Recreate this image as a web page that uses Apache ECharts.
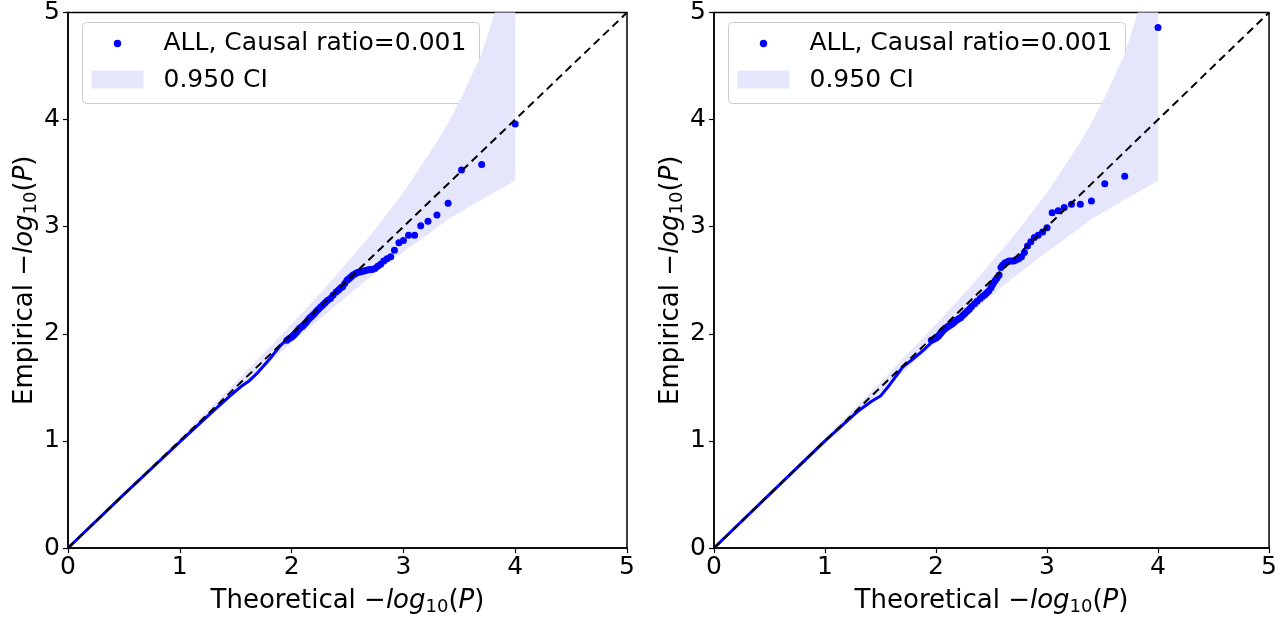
<!DOCTYPE html>
<html>
<head>
<meta charset="utf-8">
<title>QQ plots</title>
<script src="https://cdn.jsdelivr.net/npm/echarts@6/dist/echarts.min.js"></script>
<style>
  html, body { margin: 0; padding: 0; background: #fff; }
  #chart { width: 1280px; height: 621px; }
</style>
</head>
<body>
<div id="chart"></div>
<script>
// axis ticks
var tickValues = [0, 1, 2, 3, 4, 5];

// 95% CI band (theoretical x, lower, upper)
var bandX  = [0, 1.0, 1.523, 2.0, 2.30, 2.70, 3.0, 3.30, 3.40, 3.52, 3.70, 4.0];
var bandLo = [0, 0.974, 1.475, 1.919, 2.181, 2.528, 2.767, 2.99, 3.07, 3.141, 3.254, 3.43];
var bandHi = [0, 1.027, 1.573, 2.09, 2.431, 2.913, 3.319, 3.79, 3.97, 4.209, 4.616, 5.6];

// left panel: dense low part (drawn as a line) and scattered points
var leftLineX = [0, 0.5, 1.0, 1.3, 1.45, 1.55, 1.62, 1.7, 1.8, 1.9, 1.97];
var leftLineY = [0, 0.5, 0.99, 1.28, 1.42, 1.51, 1.56, 1.64, 1.76, 1.89, 1.96];
var leftX = [4.0, 3.70, 3.52, 3.40, 3.30, 3.22, 3.155, 3.10, 3.046, 3.0, 2.96, 2.92, 2.886, 2.854, 2.824, 2.796,
  2.77, 2.745, 2.72, 2.70, 2.68, 2.66, 2.64, 2.62, 2.60, 2.585, 2.57, 2.55, 2.535, 2.52, 2.507, 2.495, 2.475, 2.456,
  2.44, 2.42, 2.398, 2.37, 2.347, 2.32, 2.30, 2.28, 2.26, 2.24, 2.222, 2.205, 2.187, 2.17, 2.155, 2.14, 2.125, 2.11,
  2.097, 2.083, 2.07, 2.058, 2.046, 2.034, 2.022, 2.01, 2.0, 1.98, 1.958];
var leftY = [3.96, 3.58, 3.53, 3.22, 3.11, 3.05, 3.01, 2.92, 2.92, 2.87, 2.85, 2.78, 2.72, 2.70, 2.68, 2.65,
  2.63, 2.61, 2.60, 2.60, 2.595, 2.59, 2.585, 2.58, 2.575, 2.57, 2.56, 2.55, 2.535, 2.52, 2.51, 2.50, 2.47, 2.44,
  2.43, 2.41, 2.39, 2.36, 2.33, 2.31, 2.29, 2.27, 2.25, 2.23, 2.21, 2.19, 2.17, 2.155, 2.14, 2.12, 2.10, 2.085,
  2.07, 2.06, 2.05, 2.035, 2.02, 2.005, 1.99, 1.98, 1.97, 1.955, 1.94];

// right panel
var rightLineX = [0, 0.5, 1.0, 1.3, 1.42, 1.5, 1.58, 1.7, 1.8, 1.9, 1.97];
var rightLineY = [0, 0.5, 1.0, 1.28, 1.37, 1.42, 1.52, 1.69, 1.77, 1.86, 1.93];
var rightX = [4.0, 3.70, 3.52, 3.40, 3.30, 3.22, 3.155, 3.10, 3.046, 3.0, 2.96, 2.92, 2.886, 2.854, 2.824, 2.796,
  2.77, 2.745, 2.72, 2.70, 2.68, 2.66, 2.64, 2.62, 2.60, 2.585, 2.568, 2.55, 2.535, 2.52, 2.507, 2.495, 2.475, 2.456,
  2.44, 2.42, 2.398, 2.37, 2.347, 2.32, 2.30, 2.28, 2.26, 2.24, 2.222, 2.205, 2.187, 2.17, 2.155, 2.14, 2.125, 2.11,
  2.097, 2.083, 2.07, 2.058, 2.046, 2.034, 2.022, 2.01, 2.0, 1.98, 1.958];
var rightY = [4.86, 3.47, 3.40, 3.24, 3.21, 3.21, 3.18, 3.15, 3.13, 2.99, 2.95, 2.92, 2.90, 2.86, 2.82, 2.76,
  2.72, 2.70, 2.69, 2.68, 2.68, 2.68, 2.67, 2.66, 2.64, 2.62, 2.55, 2.52, 2.50, 2.48, 2.455, 2.43, 2.40, 2.38,
  2.365, 2.35, 2.33, 2.305, 2.28, 2.255, 2.23, 2.21, 2.19, 2.17, 2.15, 2.14, 2.13, 2.115, 2.10, 2.09, 2.08, 2.07,
  2.06, 2.05, 2.04, 2.025, 2.01, 1.995, 1.98, 1.97, 1.96, 1.95, 1.94];

var diagX = [0, 5];
var diagY = [0, 5];

function pairs(xs, ys) {
  return xs.map(function (x, i) { return [x, ys[i]]; });
}

var font = 'DejaVu Sans';
var dotColor = '#0000ff';
var bandColor = '#e5e5fc';

var nameRich = {
  a: { fontFamily: font, fontSize: 26, color: '#000' },
  i: { fontFamily: font, fontSize: 26, fontStyle: 'italic', color: '#000' },
  s: { fontFamily: font, fontSize: 18, color: '#000', verticalAlign: 'bottom', padding: [12, 0, 0, 0] }
};

function makeAxis(gridIndex, isX) {
  return {
    type: 'value',
    gridIndex: gridIndex,
    min: 0, max: 5, interval: 1,
    name: isX ? '{a|Theoretical −}{i|log}{s|10}{a|(}{i|P}{a|)}' : '{a|Empirical −}{i|log}{s|10}{a|(}{i|P}{a|)}',
    nameLocation: 'middle',
    nameGap: isX ? 38 : 28,
    nameTextStyle: { rich: nameRich },
    axisLine: { show: true, onZero: false, lineStyle: { color: '#000', width: 1.5 } },
    axisTick: { show: true, length: 5, lineStyle: { color: '#000', width: 1.2 } },
    axisLabel: {
      fontFamily: font, fontSize: 25, color: '#000', margin: isX ? 7 : 8,
      formatter: function (v) { return tickValues.indexOf(v) >= 0 ? String(v) : ''; }
    },
    splitLine: { show: false }
  };
}

function bandSeries(idx) {
  return {
    type: 'custom',
    xAxisIndex: idx, yAxisIndex: idx,
    clip: true,
    z: 1,
    silent: true,
    data: [0],
    renderItem: function (params, api) {
      var pts = [];
      for (var i = 0; i < bandX.length; i++) pts.push(api.coord([bandX[i], bandHi[i]]));
      for (var j = bandX.length - 1; j >= 0; j--) pts.push(api.coord([bandX[j], bandLo[j]]));
      return { type: 'polygon', shape: { points: pts, smooth: 0 }, style: { fill: bandColor } };
    }
  };
}

function panelSeries(idx, lx, ly, sx, sy) {
  return [
    bandSeries(idx),
    {
      type: 'line', xAxisIndex: idx, yAxisIndex: idx, z: 2,
      data: pairs(lx, ly), showSymbol: false, smooth: false,
      lineStyle: { color: dotColor, width: 3 }
    },
    {
      type: 'scatter', xAxisIndex: idx, yAxisIndex: idx, z: 3,
      data: pairs(sx, sy), symbolSize: 7,
      itemStyle: { color: dotColor, opacity: 1 }
    },
    {
      type: 'line', xAxisIndex: idx, yAxisIndex: idx, z: 4,
      data: pairs(diagX, diagY), showSymbol: false,
      lineStyle: { color: '#000', width: 2, type: [8, 5] }
    }
  ];
}

function legendGroup(left) {
  return {
    type: 'group', left: left, top: 22, z: 100,
    children: [
      { type: 'rect', shape: { x: 0, y: 0, width: 397, height: 81, r: 4 },
        style: { fill: 'rgba(255,255,255,0.8)', stroke: '#cccccc', lineWidth: 1 } },
      { type: 'circle', shape: { cx: 35, cy: 21, r: 3.7 }, style: { fill: dotColor } },
      { type: 'text', x: 81, y: 21,
        style: { text: 'ALL, Causal ratio=0.001', font: '25px "DejaVu Sans"', fill: '#000', verticalAlign: 'middle' } },
      { type: 'rect', shape: { x: 9, y: 48, width: 52, height: 18 }, style: { fill: bandColor } },
      { type: 'text', x: 81, y: 58,
        style: { text: '0.950 CI', font: '25px "DejaVu Sans"', fill: '#000', verticalAlign: 'middle' } }
    ]
  };
}

var myChart = echarts.init(document.getElementById('chart'));
var option = {
  backgroundColor: '#fff',
  animation: false,
  grid: [
    { left: 68, top: 10, width: 559, height: 538, show: true, borderColor: '#000', borderWidth: 1.5, backgroundColor: 'transparent' },
    { left: 714, top: 10, width: 559, height: 538, show: true, borderColor: '#000', borderWidth: 1.5, backgroundColor: 'transparent' }
  ],
  xAxis: [makeAxis(0, true), makeAxis(1, true)],
  yAxis: [makeAxis(0, false), makeAxis(1, false)],
  series: panelSeries(0, leftLineX, leftLineY, leftX, leftY)
    .concat(panelSeries(1, rightLineX, rightLineY, rightX, rightY)),
  graphic: [legendGroup(82), legendGroup(728)]
};
option && myChart.setOption(option);
window.addEventListener('resize', myChart.resize);
</script>
</body>
</html>
